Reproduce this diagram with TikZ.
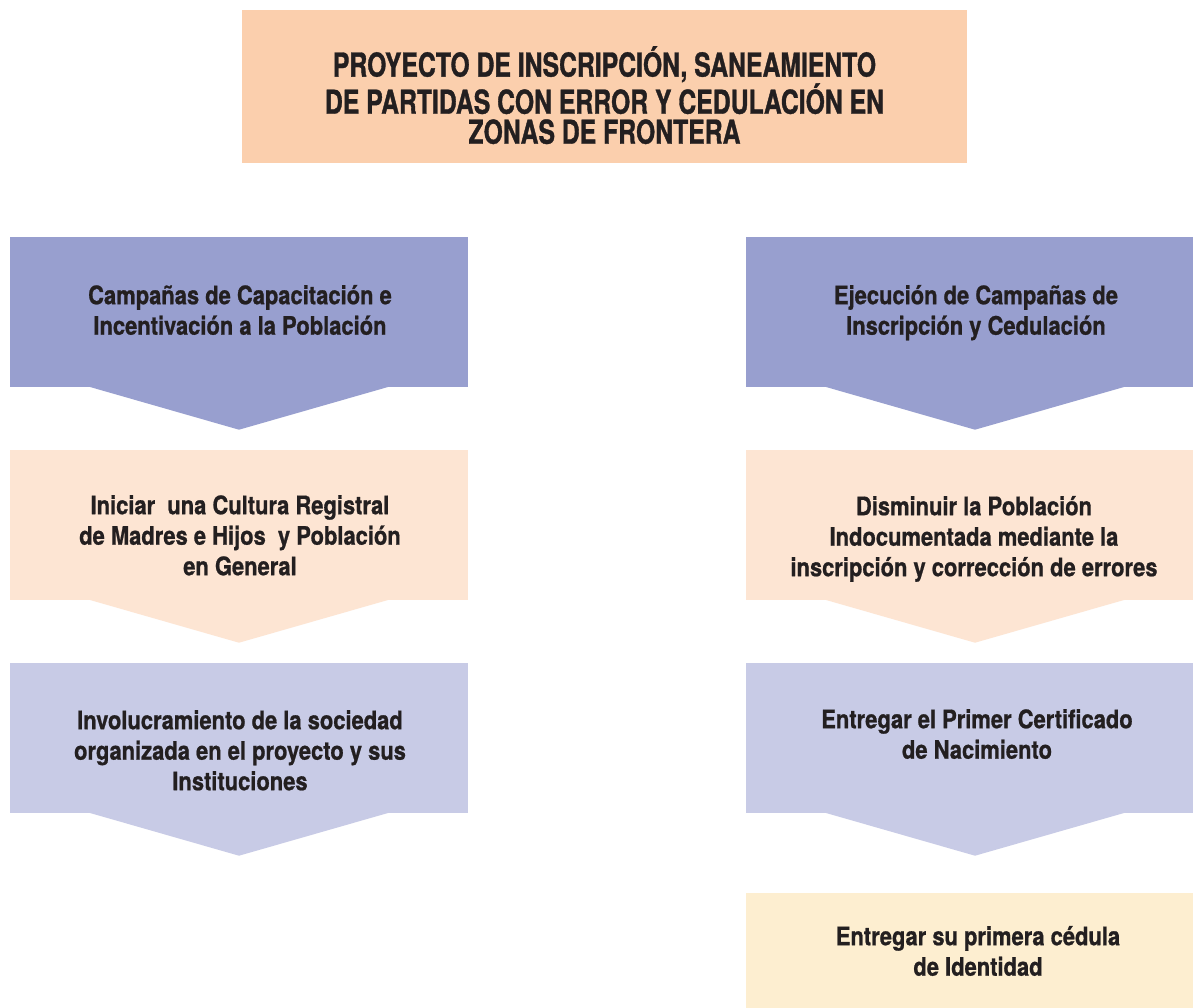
\documentclass[tikz,border=0pt]{standalone}
\usepackage{fontspec}
\newfontfamily\titlefont{TeX Gyre Heros}[FakeStretch=0.75,FakeBold=1]
\newfontfamily\bodyfont{TeX Gyre Heros}[FakeStretch=0.86,FakeBold=0.8]
\definecolor{cTop}{RGB}{251,207,173}
\definecolor{cBlue}{RGB}{152,159,207}
\definecolor{cPeach}{RGB}{253,229,211}
\definecolor{cLilac}{RGB}{200,203,230}
\definecolor{cCream}{RGB}{253,238,208}
\definecolor{cText}{RGB}{35,31,32}
\begin{document}
\begin{tikzpicture}[x=1pt,y=-1pt,
  boxshape/.style={rectangle, draw=none, inner sep=0pt, minimum width=458pt, minimum height=150pt},
  titletxt/.style={anchor=north, inner sep=0pt, align=center, text=cText,
    font=\titlefont\bfseries\fontsize{33}{30}\selectfont},
  bodytxt/.style={anchor=north, inner sep=0pt, align=center, text=cText,
    font=\bodyfont\bfseries\fontsize{25.5}{30.5}\selectfont},
]
\clip (0,0) rectangle (1193,1007);
\fill[white] (0,0) rectangle (1193,1007);
% title
\node[rectangle, fill=cTop, inner sep=0pt, minimum width=725pt, minimum height=153pt] (top) at (604.5,86.5) {};
\node[titletxt] (toptxt) at (604.5,73-27) {\rule{0pt}{27pt}PROYECTO DE INSCRIPCIÓN, SANEAMIENTO\\DE PARTIDAS CON ERROR Y CEDULACIÓN EN\\ZONAS DE FRONTERA};
% left column
\node[boxshape, fill=cBlue]  (L1) at (239,312) {};
\node[boxshape, fill=cPeach] (L2) at (239,525) {};
\node[boxshape, fill=cLilac] (L3) at (239,738) {};
% right column
\node[boxshape, fill=cBlue]  (R1) at (975,312) {};
\node[boxshape, fill=cPeach] (R2) at (975,525) {};
\node[boxshape, fill=cLilac] (R3) at (975,738) {};
\node[boxshape, fill=cCream] (R4) at (975,968) {};
% arrow tips
\foreach \n/\c in {L1/cBlue,L2/cPeach,L3/cLilac,R1/cBlue,R2/cPeach,R3/cLilac}{
  \fill[\c] ([xshift=-150pt,yshift=0.5pt]\n.south) -- ([xshift=150pt,yshift=0.5pt]\n.south) -- ([yshift=-42.5pt]\n.south) -- cycle;
}
% texts
\node[bodytxt] (L1t) at (240,304-20) {\rule{0pt}{20pt}Campañas de Capacitación e\\Incentivación a la Población};
\node[bodytxt] (L2t) at (240,514-20) {\rule{0pt}{20pt}Iniciar\ \ una Cultura Registral\\de Madres e Hijos\ \ y Población\\en General};
\node[bodytxt] (L3t) at (240,729-20) {\rule{0pt}{20pt}Involucramiento de la sociedad\\organizada en el proyecto y sus\\Instituciones};
\node[bodytxt] (R1t) at (976,304-20) {\rule{0pt}{20pt}Ejecución de Campañas de\\Inscripción y Cedulación};
\node[bodytxt] (R2t) at (974,515-20) {\rule{0pt}{20pt}Disminuir la Población\\Indocumentada mediante la\\inscripción y corrección de errores};
\node[bodytxt] (R3t) at (977,728-20) {\rule{0pt}{20pt}Entregar el Primer Certificado\\de Nacimiento};
\node[bodytxt] (R4t) at (978,945-20) {\rule{0pt}{20pt}Entregar su primera cédula\\de Identidad};
\end{tikzpicture}
\end{document}
